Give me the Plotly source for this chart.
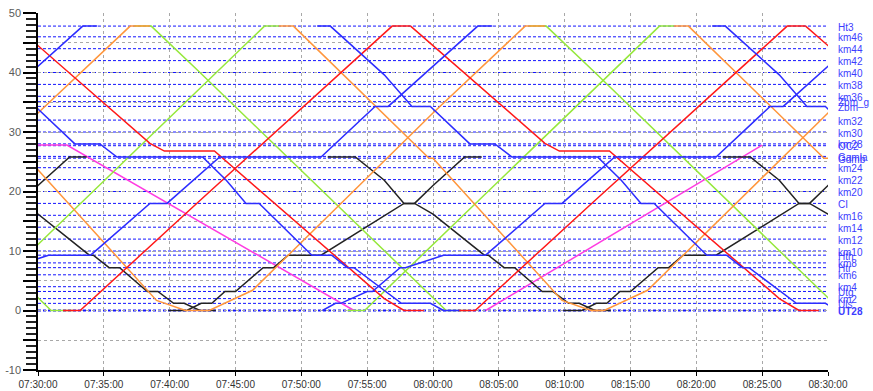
import plotly.graph_objects as go
from datetime import datetime, timedelta

# ---------------- data (minutes after 07:00, km) ----------------
STATION_NAMES = ["Ht3", "km46", "km44", "km42", "km40", "km38", "km36", "Zbm_g", "Zbm",
                 "km32", "km30", "km28", "OC2", "Gamla", "Gdmb", "km24", "km22", "km20",
                 "CI", "km16", "km14", "km12", "km10", "Hth", "km8", "Htr", "km6", "km4",
                 "Utg", "km2", "Uls", "UT28"]
STATION_KM = [47.8, 46, 44, 42, 40, 38, 36, 35.1, 34.3,
              32, 30, 28, 27.7, 25.9, 25.6, 24, 22, 20,
              18, 16, 14, 12, 10, 9.3, 8, 7.2, 6, 4,
              3.2, 2, 1.2, 0]

BLUE_UP_MIN = [21.6, 22.6, 23.0, 25.0, 25.4, 27.5, 27.9, 30.8, 34.0, 38.5, 39.8, 43.8, 51.5, 55.6, 56.6, 63.4, 64.5]
BLUE_UP_KM = [0, 1.2, 1.2, 3.2, 3.2, 7.2, 7.2, 9.3, 9.3, 18, 18, 25.8, 25.8, 34.3, 34.3, 47.8, 47.8]
BLUE_UP_SHIFT = [-30, 0, 30]

BLUE_DN_MIN = [51.2, 52.2, 56.3, 58.4, 59.8, 62.8, 64.7, 66.0, 72.5, 74.3, 75.8, 76.8, 80.8, 82.3, 83.5, 84.0, 87.6, 89.8, 90.8, 92.0]
BLUE_DN_KM = [47.8, 47.8, 39.6, 34.3, 34.3, 28, 28, 25.8, 25.8, 21.9, 18, 18, 9.3, 9.3, 7.2, 7.2, 1.2, 1.2, 0, 0]
BLUE_DN_SHIFT = [-30, 0, 30]

RED_UP_MIN = [31.9, 33.2, 42.3, 56.9, 58.3]
RED_UP_KM = [0, 0, 18.5, 47.8, 47.8]
RED_UP_SHIFT = [0, 30]

RED_DN_MIN = [58.3, 68.5, 69.6, 73.4, 86.3, 87.8, 89.3]
RED_DN_KM = [47.8, 28.1, 26.8, 26.8, 2.0, 0, 0]
RED_DN_SHIFT = [-30, 0, 30]

ORANGE_UP_MIN = [42.0, 43.0, 46.3, 60.0, 67.0, 68.5]
ORANGE_UP_KM = [0, 0, 3.4, 33.2, 47.8, 47.8]
ORANGE_UP_SHIFT = [-30, 0, 30]

ORANGE_DN_REL = [-1.1, 0, 10.3, 10.6, 20.4, 22.6, 23.4]
ORANGE_DN_KM = [47.8, 47.8, 25.6, 25.6, 1.7, 0, 0]
ORANGE_DN_START = [18.6, 49.4, 79.4]

GREEN_UP_MIN = [23.5, 24.8, 47.2, 48.3]
GREEN_UP_KM = [0, 0, 47.8, 47.8]
GREEN_UP_SHIFT = [0, 30]

GREEN_DN_MIN = [37.3, 38.6, 42.3, 61.0, 62.7]
GREEN_DN_KM = [47.8, 47.8, 40, 0, 0]
GREEN_DN_SHIFT = [-30, 0, 30]

BLACK_UP_MIN = [39.9, 41.3, 42.4, 43.2, 44.2, 45.0, 47.1, 47.9, 49.0, 51.5, 57.8, 58.6, 60.0, 62.4, 63.7]
BLACK_UP_KM = [0, 0, 1.2, 1.2, 3.2, 3.2, 7.2, 7.2, 9.3, 9.3, 18, 18, 21, 25.8, 25.8]
BLACK_UP_SHIFT = [-30, 0, 30]

BLACK_DN_MIN = [52.0, 54.1, 56.3, 57.8, 58.6, 60.0, 63.9, 64.2, 65.4, 66.2, 68.3, 69.1, 70.3, 71.1, 72.3, 73.5]
BLACK_DN_KM = [25.8, 25.8, 21.9, 18, 18, 16.2, 9.3, 9.3, 7.2, 7.2, 3.2, 3.2, 1.2, 1.2, 0, 0]
BLACK_DN_SHIFT = [-30, 0, 30]

MAGENTA_DN_MIN = [25.0, 32.2, 54.0]
MAGENTA_DN_KM = [27.8, 27.8, 0]
MAGENTA_UP_MIN = [64.0, 85.0]
MAGENTA_UP_KM = [0, 27.8]

X_TICK_MIN = [30, 35, 40, 45, 50, 55, 60, 65, 70, 75, 80, 85, 90]
Y_TICK_VALS = [-10, -5, 0, 5, 10, 15, 20, 25, 30, 35, 40, 45, 50]
Y_TICK_TEXT = ["-10", "", "0", "", "10", "", "20", "", "30", "", "40", "", "50"]

# ---------------- styles ----------------
BLUE = "rgb(45,45,255)"
RED = "rgb(255,25,25)"
ORANGE = "rgb(255,150,60)"
GREEN = "rgb(150,232,60)"
BLACK = "rgb(35,35,35)"
MAGENTA = "rgb(255,60,225)"
STATION_COLOR = "rgb(20,20,255)"
LABEL_COLOR = "rgb(60,60,255)"
FONT = "Liberation Sans Narrow, Arial Narrow, Liberation Sans, Arial, sans-serif"

BASE = datetime(2024, 1, 1, 7, 0, 0)


def tm(m):
    return BASE + timedelta(minutes=m)


fig = go.Figure()


def add_trip(mins, kms, color):
    fig.add_trace(go.Scatter(
        x=[tm(m) for m in mins], y=kms, mode="lines",
        line=dict(color=color, width=1.5), hoverinfo="skip", showlegend=False))


def add_shifted(mins, kms, shifts, color):
    for s in shifts:
        add_trip([m + s for m in mins], kms, color)


add_shifted(MAGENTA_DN_MIN, MAGENTA_DN_KM, [0], MAGENTA)
add_shifted(MAGENTA_UP_MIN, MAGENTA_UP_KM, [0], MAGENTA)
add_shifted(BLACK_UP_MIN, BLACK_UP_KM, BLACK_UP_SHIFT, BLACK)
add_shifted(BLACK_DN_MIN, BLACK_DN_KM, BLACK_DN_SHIFT, BLACK)
add_shifted(GREEN_UP_MIN, GREEN_UP_KM, GREEN_UP_SHIFT, GREEN)
add_shifted(GREEN_DN_MIN, GREEN_DN_KM, GREEN_DN_SHIFT, GREEN)
add_shifted(ORANGE_UP_MIN, ORANGE_UP_KM, ORANGE_UP_SHIFT, ORANGE)
for st in ORANGE_DN_START:
    add_trip([st + r for r in ORANGE_DN_REL], ORANGE_DN_KM, ORANGE)
add_shifted(RED_UP_MIN, RED_UP_KM, RED_UP_SHIFT, RED)
add_shifted(RED_DN_MIN, RED_DN_KM, RED_DN_SHIFT, RED)
add_shifted(BLUE_UP_MIN, BLUE_UP_KM, BLUE_UP_SHIFT, BLUE)
add_shifted(BLUE_DN_MIN, BLUE_DN_KM, BLUE_DN_SHIFT, BLUE)

shapes = []
annotations = []
for name, km in zip(STATION_NAMES, STATION_KM):
    shapes.append(dict(type="line", xref="paper", x0=0, x1=1, yref="y", y0=km, y1=km,
                       line=dict(color=STATION_COLOR, width=2 if km == 0 else 1, dash="3px,2px"),
                       layer="below"))
    txt = "<b>%s</b>" % name if name in ("UT28",) else name
    annotations.append(dict(x=1, xref="paper", xanchor="left", xshift=8, y=km, yref="y",
                            yanchor="middle", yshift=-1, text=txt, showarrow=False,
                            font=dict(color=LABEL_COLOR, size=10, family="Liberation Sans, Arial")))

fig.update_layout(
    width=873, height=391,
    margin=dict(l=38, r=45, t=13, b=21, pad=0),
    paper_bgcolor="white", plot_bgcolor="white",
    shapes=shapes, annotations=annotations,
    font=dict(family=FONT, size=10, color="#444"),
    xaxis=dict(
        type="date", range=[tm(30), tm(90)], automargin=False,
        tickvals=[tm(m) for m in X_TICK_MIN], tickformat="%H:%M:%S",
        ticks="outside", ticklen=4, tickcolor="black",
        showline=True, linecolor="black", linewidth=1.5,
        showgrid=True, gridcolor="#a8a8a8", griddash="dot", gridwidth=1,
        zeroline=False, tickfont=dict(size=10, color="#333", family=FONT),
    ),
    yaxis=dict(
        range=[-10, 50], tickvals=Y_TICK_VALS, ticktext=Y_TICK_TEXT, automargin=False,
        ticks="outside", ticklen=13, tickcolor="black", tickwidth=1.5,
        minor=dict(dtick=1, ticks="outside", ticklen=10, tickcolor="#222", tickwidth=1.5, showgrid=False),
        showline=True, linecolor="black", linewidth=1.5,
        showgrid=True, gridcolor="#a8a8a8", griddash="dot", gridwidth=1,
        zeroline=False, tickfont=dict(size=11, color="#5a5a5a", family="Liberation Sans, Arial"),
    ),
)

fig.write_html("out.html", config={"displayModeBar": False},
               post_script="document.body.style.margin='0';")
